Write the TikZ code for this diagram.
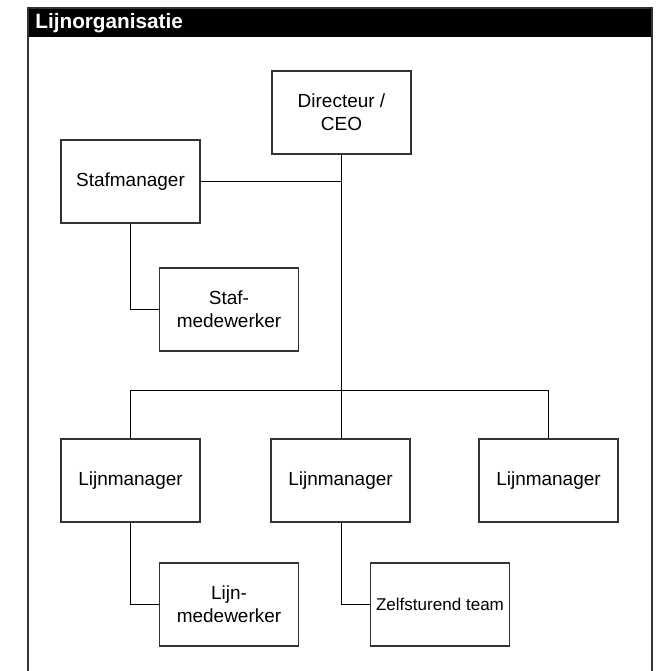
\documentclass[tikz,border=0pt]{standalone}
\usepackage{fontspec}
\setmainfont{Liberation Sans}
\usetikzlibrary{positioning}
\definecolor{linegray}{HTML}{333333}

\begin{document}
\begin{tikzpicture}[
  line width=0.6pt,
  link/.style={draw=black, line width=0.6pt},
  box/.style={draw=linegray, line width=0.8pt, minimum width=2.78cm, minimum height=1.66cm, align=center, font=\fontsize{10.8}{13}\selectfont, inner sep=1pt}
]
  \useasboundingbox (0,0) rectangle (13.24,-13.42);
  % frame and title bar
  \fill[black] (0.56,-0.16) rectangle (13.04,-0.74);
  \draw[linegray, line width=0.8pt] (0.56,-13.42) -- (0.56,-0.16) -- (13.04,-0.16) -- (13.04,-13.42);
  \node[anchor=west, text=white, font=\fontsize{11.8}{13}\bfseries] (title) at (0.58,-0.46) {Lijnorganisatie};

  % top and staff
  \node[box] (dir) at (6.83,-2.25) {Directeur /\\CEO};
  \node[box] (staf) at (2.61,-3.63) {Stafmanager};
  \node[box] (stafmw) at (4.58,-6.19) {Staf-\\medewerker};

  % line managers
  \node[box] (lm1) at (2.61,-9.61) {Lijnmanager};
  \node[box] (lm2) at (6.81,-9.61) {Lijnmanager};
  \node[box] (lm3) at (10.97,-9.61) {Lijnmanager};
  \node[box] (lijnmw) at (4.58,-12.09) {Lijn-\\medewerker};
  \node[box, font=\fontsize{9.7}{12}\selectfont] (team) at (8.80,-12.09) {Zelfsturend team};

  % connectors
  \coordinate (bus) at (dir.south |- 0,-7.81);
  \draw[link] (dir.south) -- (bus);
  \draw[link] (staf.east) -- (staf.east -| dir.south);
  \draw[link] (staf.south) |- (stafmw.west);
  \draw[link] (lm1.north) -- (lm1.north |- bus) -- (lm3.north |- bus) -- (lm3.north);
  \draw[link] (bus) -- (bus |- lm2.north);
  \draw[link] (lm1.south) |- (lijnmw.west);
  \draw[link] (lm2.south -| bus) |- (team.west);
\end{tikzpicture}
\end{document}
